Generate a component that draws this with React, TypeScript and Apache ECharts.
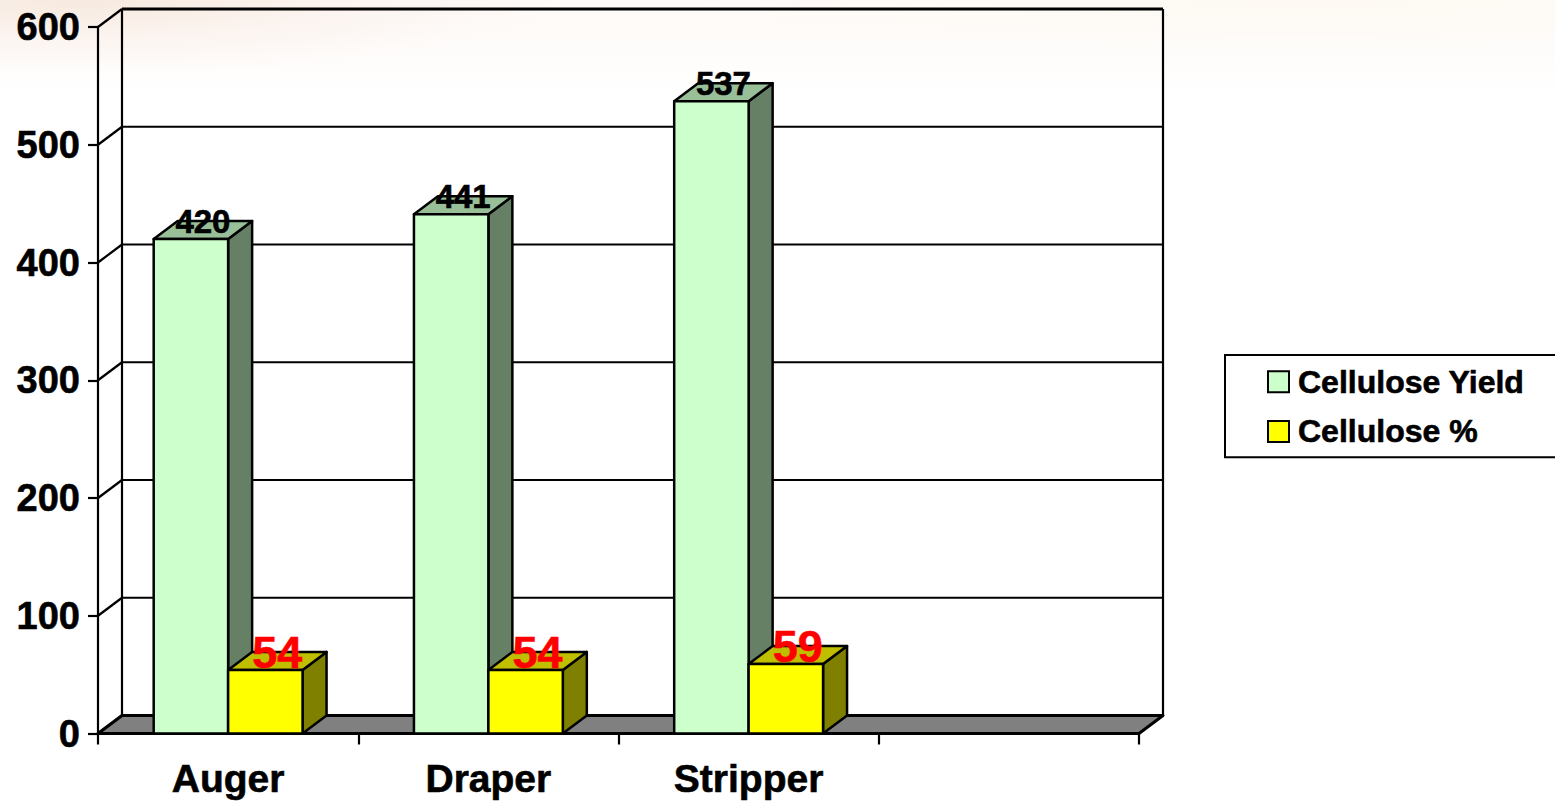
import React, { useEffect, useRef } from "react";
import * as echarts from "echarts";

const categories = ["Auger", "Draper", "Stripper", ""];
const cellulosePositions = [0, 1, 2];
const yieldValues = [420, 441, 537];
const percentValues = [54, 54, 59];
const yTicks = [0, 100, 200, 300, 400, 500, 600];

const FONT = '"Liberation Sans", Arial, sans-serif';
const DEPTH_X = 24;
const DEPTH_Y = -18;
const BAR_SHARE = 0.286;

// One extruded column: front, top and side faces plus its value above the top face.
function columnRenderer(slot: number, faces: { front: string; top: string; side: string }, labelColor: string, labelSize: number) {
  return (_params: any, api: any) => {
    const cat = api.value(0);
    const val = api.value(1);
    const band = api.size([1, 0])[0];
    const w = band * BAR_SHARE;
    const [cx, top] = api.coord([cat, val]);
    const [, base] = api.coord([cat, 0]);
    const x0 = cx + slot * w;
    const x1 = x0 + w;
    const line = { stroke: "#000", lineWidth: 2.5, lineJoin: "round" };
    return {
      type: "group",
      children: [
        {
          type: "polygon",
          shape: { points: [[x1, top], [x1 + DEPTH_X, top + DEPTH_Y], [x1 + DEPTH_X, base + DEPTH_Y], [x1, base]] },
          style: { fill: faces.side, ...line },
        },
        {
          type: "polygon",
          shape: { points: [[x0, top], [x0 + DEPTH_X, top + DEPTH_Y], [x1 + DEPTH_X, top + DEPTH_Y], [x1, top]] },
          style: { fill: faces.top, ...line },
        },
        { type: "rect", shape: { x: x0, y: top, width: w, height: base - top }, style: { fill: faces.front, ...line } },
        {
          type: "text",
          x: x0 + w / 2 + DEPTH_X / 2,
          y: top - 17.5,
          style: {
            text: String(val),
            fill: labelColor,
            stroke: labelColor,
            lineWidth: 0.6,
            font: `bold ${labelSize}px ${FONT}`,
            align: "center",
            verticalAlign: "middle",
          },
        },
      ],
    };
  };
}

// Floor, back wall and the receding gridlines, all taken from the value axis.
function frameRenderer(params: any, api: any) {
  const sys = params.coordSys;
  const tick = api.value(1);
  const [, y] = api.coord([0, tick]);
  const left = sys.x;
  const right = sys.x + sys.width;
  const bottom = sys.y + sys.height;
  const children: any[] = [
    { type: "line", shape: { x1: left, y1: y, x2: left + DEPTH_X, y2: y + DEPTH_Y }, style: { stroke: "#000", lineWidth: 2.2 } },
    { type: "line", shape: { x1: left + DEPTH_X, y1: y + DEPTH_Y, x2: right + DEPTH_X, y2: y + DEPTH_Y }, style: { stroke: "#000", lineWidth: tick === 600 ? 3 : 2 } },
  ];
  if (tick === 0) {
    children.unshift(
      {
        type: "polygon",
        shape: { points: [[left, bottom], [left + DEPTH_X, bottom + DEPTH_Y], [right + DEPTH_X, bottom + DEPTH_Y], [right, bottom]] },
        style: { fill: "#808080", stroke: "#000", lineWidth: 3, lineJoin: "round" },
      },
      { type: "line", shape: { x1: left + DEPTH_X, y1: sys.y + DEPTH_Y, x2: left + DEPTH_X, y2: bottom + DEPTH_Y }, style: { stroke: "#000", lineWidth: 2.2 } },
      { type: "line", shape: { x1: right + DEPTH_X, y1: sys.y + DEPTH_Y, x2: right + DEPTH_X, y2: bottom + DEPTH_Y }, style: { stroke: "#000", lineWidth: 2.2 } },
    );
  }
  return { type: "group", children };
}

export default function App() {
  const ref = useRef<HTMLDivElement>(null);

  useEffect(() => {
    const chart = echarts.init(ref.current!, undefined, { renderer: "svg" });
    const heavy = { textBorderColor: "#000", textBorderWidth: 0.6 };
    chart.setOption({
      animation: false,
      backgroundColor: "transparent",
      textStyle: { fontFamily: FONT },
      grid: { left: 98, top: 27, width: 1041, height: 706.5, containLabel: false },
      xAxis: {
        type: "category",
        data: categories,
        axisLine: { lineStyle: { color: "#000", width: 2.5 } },
        axisTick: { show: true, alignWithLabel: false, length: 11, lineStyle: { color: "#000", width: 2.2 } },
        axisLabel: { color: "#000", fontFamily: FONT, fontWeight: "bold", fontSize: 39, margin: 25, interval: 0, ...heavy },
        splitLine: { show: false },
      },
      yAxis: {
        type: "value",
        min: 0,
        max: 600,
        interval: 100,
        axisLine: { show: true, lineStyle: { color: "#000", width: 2.2 } },
        axisTick: { show: true, length: 10, lineStyle: { color: "#000", width: 2.2 } },
        axisLabel: { color: "#000", fontFamily: FONT, fontWeight: "bold", fontSize: 38, margin: 18, ...heavy },
        splitLine: { show: false },
      },
      legend: {
        orient: "vertical",
        left: 1225,
        top: 355,
        data: ["Cellulose Yield", "Cellulose %"],
        backgroundColor: "#fff",
        borderColor: "#000",
        borderWidth: 2,
        borderRadius: 0,
        padding: [10.5, 32, 9.5, 42],
        itemWidth: 21,
        itemHeight: 21,
        itemGap: 17,
        icon: "rect",
        textStyle: {
          color: "#000",
          fontFamily: FONT,
          fontWeight: "bold",
          fontSize: 32,
          padding: [0, 0, 0, 4],
          ...heavy,
        },
      },
      series: [
        {
          name: "frame",
          type: "custom",
          renderItem: frameRenderer,
          data: yTicks.map((t) => [0, t]),
          encode: { x: 0, y: 1 },
          silent: true,
          z: 1,
        },
        {
          name: "Cellulose Yield",
          type: "custom",
          renderItem: columnRenderer(-1, { front: "#CCFFCC", top: "#99BF99", side: "#668066" }, "#000", 33),
          data: cellulosePositions.map((c, i) => [c, yieldValues[i]]),
          encode: { x: 0, y: 1 },
          itemStyle: { color: "#CCFFCC", borderColor: "#000", borderWidth: 2 },
          z: 2,
        },
        {
          name: "Cellulose %",
          type: "custom",
          renderItem: columnRenderer(0, { front: "#FFFF00", top: "#BFBF00", side: "#808000" }, "#FF0000", 45),
          data: cellulosePositions.map((c, i) => [c, percentValues[i]]),
          encode: { x: 0, y: 1 },
          itemStyle: { color: "#FFFF00", borderColor: "#000", borderWidth: 2 },
          z: 3,
        },
      ],
    });
    return () => chart.dispose();
  }, []);

  return (
    <div
      style={{
        position: "fixed",
        inset: 0,
        width: 1555,
        height: 802,
        overflow: "hidden",
        background:
          "radial-gradient(ellipse 480px 75px at 80px 0px, #f7eadf 0%, rgba(250,240,235,0.6) 55%, rgba(255,255,255,0) 100%), radial-gradient(ellipse 600px 50px at 1300px 0px, #fdf9f2 0%, rgba(255,255,255,0) 100%), linear-gradient(#fefaf7 0px, #ffffff 100px)",
      }}
    >
      <div ref={ref} style={{ width: 1555, height: 802 }} />
    </div>
  );
}
